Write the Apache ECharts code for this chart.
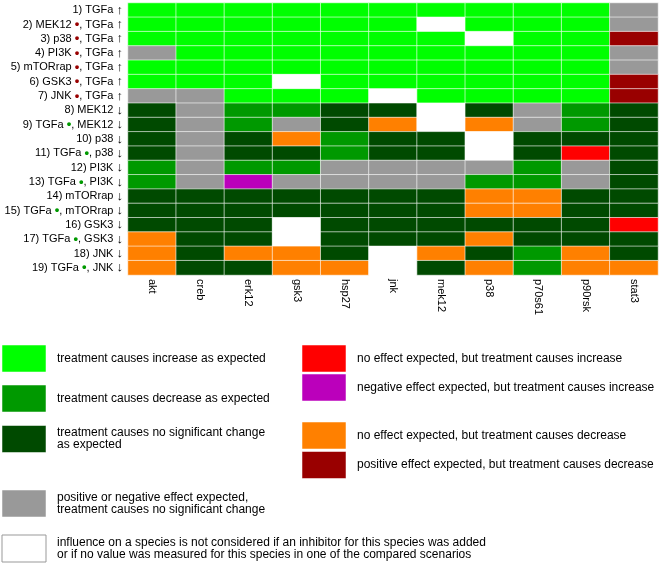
<!DOCTYPE html>
<html>
<head>
<meta charset="utf-8">
<script src="https://cdn.jsdelivr.net/npm/echarts@6/dist/echarts.min.js"></script>
<style>
html,body{margin:0;padding:0;background:#fff;}
#chart{width:661px;height:564px;}
</style>
</head>
<body>
<div id="chart"></div>
<script>
// Columns (measured species)
const columns = ['akt','creb','erk12','gsk3','hsp27','jnk','mek12','p38','p70s61','p90rsk','stat3'];
// Rows (compared scenarios); "•" is coloured per row group
const rows = [
  '1) TGFa ↑',
  '2) MEK12 •, TGFa ↑',
  '3) p38 •, TGFa ↑',
  '4) PI3K •, TGFa ↑',
  '5) mTORrap •, TGFa ↑',
  '6) GSK3 •, TGFa ↑',
  '7) JNK •, TGFa ↑',
  '8) MEK12 ↓',
  '9) TGFa •, MEK12 ↓',
  '10) p38 ↓',
  '11) TGFa •, p38 ↓',
  '12) PI3K ↓',
  '13) TGFa •, PI3K ↓',
  '14) mTORrap ↓',
  '15) TGFa •, mTORrap ↓',
  '16) GSK3 ↓',
  '17) TGFa •, GSK3 ↓',
  '18) JNK ↓',
  '19) TGFa •, JNK ↓'
];
// Cell states per row, one letter per column:
// L increase as expected, M decrease as expected, D no change as expected,
// G no significant change (effect expected), W not considered,
// R unexpected increase (no effect expected), P unexpected increase (negative expected),
// O unexpected decrease (no effect expected), B unexpected decrease (positive expected)
const cellStates = [
  'LLLLLLLLLLG',
  'LLLLLLWLLLG',
  'LLLLLLLWLLB',
  'GLLLLLLLLLG',
  'LLLLLLLLLLG',
  'LLLWLLLLLLB',
  'GGLLLWLLLLB',
  'DGMMDDWDGMD',
  'DGMGDOWOGMD',
  'DGDOMDDWDDD',
  'DGDDMDDWDRD',
  'MGMMGGGGMGD',
  'MGPGGGGMMGD',
  'DDDDDDDOODD',
  'DDDDDDDOODD',
  'DDDWDDDDDDR',
  'ODDWDDDODDD',
  'ODOODWODMOD',
  'ODDOOWDOMOO'
];
const stateCodes = ['L','M','D','G','W','R','P','O','B'];
const stateColors = ['#00ff00','#009900','#004a00','#999999','#ffffff','#ff0000','#bb00bb','#ff8000','#990000'];
const legendLeftCodes = ['L','M','D','G','W'];
const legendLeftTexts = [
  'treatment causes increase as expected',
  'treatment causes decrease as expected',
  'treatment causes no significant change\nas expected',
  'positive or negative effect expected,\ntreatment causes no significant change',
  'influence on a species is not considered if an inhibitor for this species was added\nor if no value was measured for this species in one of the compared scenarios'
];
const legendRightCodes = ['R','P','O','B'];
const legendRightTexts = [
  'no effect expected, but treatment causes increase',
  'negative effect expected, but treatment causes increase',
  'no effect expected, but treatment causes decrease',
  'positive effect expected, but treatment causes decrease'
];

const data = [];
cellStates.forEach((s, r) => {
  for (let c = 0; c < columns.length; c++) {
    data.push([c, r, stateCodes.indexOf(s[c])]);
  }
});

const FONT = '"Liberation Sans", Arial, sans-serif';
const graphics = [];
const leftY = [358.5, 398.5, 439, 503.5, 548.5];
legendLeftCodes.forEach((code, i) => {
  const col = stateColors[stateCodes.indexOf(code)];
  graphics.push({type:'rect', shape:{x:2, y:leftY[i]-13.5, width:44, height:27},
    style:{fill:col, stroke: code === 'W' ? '#999' : 'rgba(255,255,255,0.5)', lineWidth:1}});
  graphics.push({type:'text', x:57, y:leftY[i],
    style:{text:legendLeftTexts[i], font:'12px ' + FONT, fill:'#000', lineHeight:12, verticalAlign:'middle', align:'left'}});
});
const rightY = [358.5, 387.5, 435.5, 465];
legendRightCodes.forEach((code, i) => {
  const col = stateColors[stateCodes.indexOf(code)];
  graphics.push({type:'rect', shape:{x:302, y:rightY[i]-13.5, width:44, height:27},
    style:{fill:col, stroke:'rgba(255,255,255,0.5)', lineWidth:1}});
  graphics.push({type:'text', x:357, y:rightY[i],
    style:{text:legendRightTexts[i], font:'12px ' + FONT, fill:'#000', lineHeight:12, verticalAlign:'middle', align:'left'}});
});

const chart = echarts.init(document.getElementById('chart'), null, {renderer:'canvas'});
chart.setOption({
  animation: false,
  backgroundColor: '#fff',
  grid: {left:128, top:3, width:530, height:272, containLabel:false, outerBoundsMode:'none'},
  xAxis: {
    type:'category', data: columns, position:'bottom',
    axisLine:{show:false}, axisTick:{show:false}, splitLine:{show:false},
    axisLabel:{interval:0, rotate:-90, margin:4, fontSize:11, fontFamily:FONT, color:'#000'}
  },
  yAxis: {
    type:'category', data: rows, inverse:true,
    axisLine:{show:false}, axisTick:{show:false}, splitLine:{show:false},
    axisLabel:{
      interval:0, margin:5, fontSize:11, fontFamily:FONT, color:'#000',
      formatter: (v, i) => v.replace('•', i < 7 ? '{r|•}' : '{g|•}')
                            .replace('↑', '{a|↑}').replace('↓', '{a|↓}'),
      rich: {
        r:{color:'#990000', fontSize:13, fontWeight:'bold', fontFamily:FONT},
        g:{color:'#009900', fontSize:13, fontWeight:'bold', fontFamily:FONT},
        a:{color:'#000', fontSize:13, fontFamily:FONT}
      }
    }
  },
  visualMap: {
    type:'piecewise', show:false, dimension:2,
    pieces: stateColors.map((c, i) => ({value:i, color:c}))
  },
  series: [{
    type:'heatmap', data: data,
    itemStyle:{borderColor:'rgba(255,255,255,0.6)', borderWidth:1},
    emphasis:{disabled:true}
  }],
  graphic: graphics
});
</script>
</body>
</html>
